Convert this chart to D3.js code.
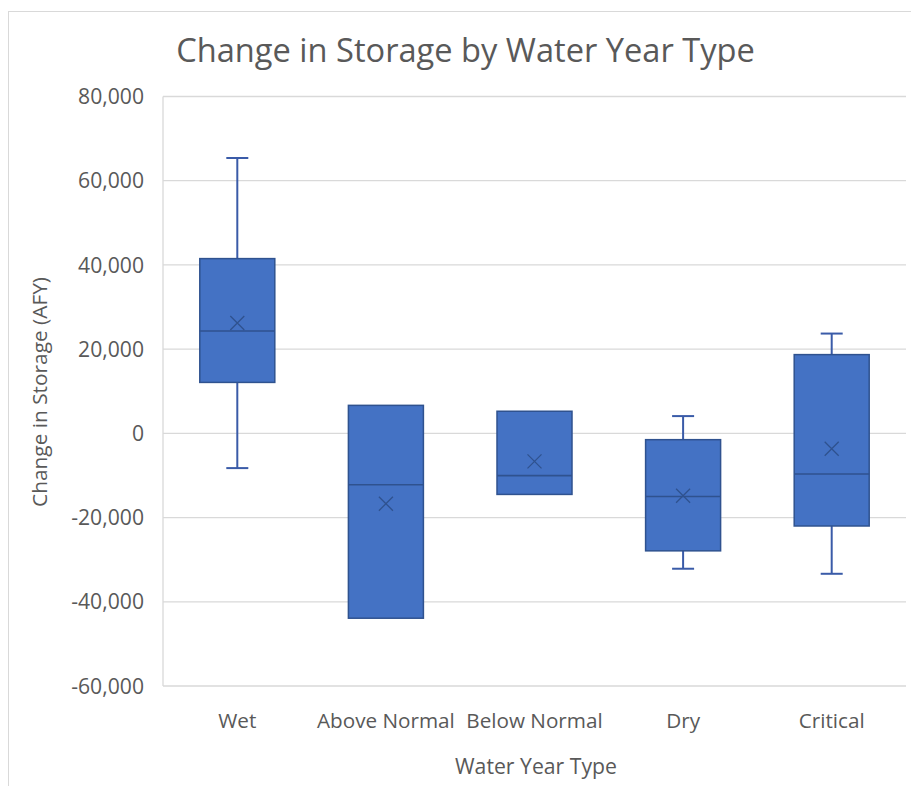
<!DOCTYPE html>
<html>
<head>
<meta charset="utf-8">
<script src="https://cdn.jsdelivr.net/npm/d3@7"></script>
<style>
  html, body { margin: 0; padding: 0; background: #fff; }
  svg { display: block; }
  text { font-family: "Open Sans", sans-serif; fill: #595959; }
</style>
</head>
<body>
<svg id="chart" width="911" height="786"></svg>
<script>
// ---- data ----
const categories = ["Wet", "Above Normal", "Below Normal", "Dry", "Critical"];
const whiskerLow  = [-8250, -43900, -14500, -32150, -33350];
const q1Values    = [12100, -43900, -14500, -27900, -22000];
const medians     = [24300, -12200, -10050, -15000, -9650];
const q3Values    = [41500, 6650, 5250, -1500, 18700];
const whiskerHigh = [65400, 6650, 5250, 4100, 23700];
const means       = [26200, -16700, -6650, -14800, -3650];
const yTicks      = [-60000, -40000, -20000, 0, 20000, 40000, 60000, 80000];
const titleText = "Change in Storage by Water Year Type";
const xTitleText = "Water Year Type";
const yTitleText = "Change in Storage (AFY)";

const svg = d3.select("#chart");
const W = 911, H = 786;
const plot = { left: 163, right: 906, top: 96.5, bottom: 686 };

// chart border
svg.append("rect")
  .attr("x", 8.5).attr("y", 11.5)
  .attr("width", W + 20).attr("height", H + 20)
  .attr("fill", "#fff").attr("stroke", "#d9d9d9").attr("stroke-width", 1);

const y = d3.scaleLinear().domain([-60000, 80000]).range([plot.bottom, plot.top]);
const x = d3.scaleBand().domain(categories).range([plot.left, plot.right]).padding(0);

function fitText(sel, targetWidth, baseSize) {
  sel.attr("font-size", baseSize);
  const w = sel.node().getComputedTextLength();
  const s = baseSize * targetWidth / w;
  sel.attr("font-size", s);
  return s;
}

// gridlines
svg.append("g").selectAll("line").data(yTicks).join("line")
  .attr("x1", plot.left).attr("x2", plot.right)
  .attr("y1", d => y(d)).attr("y2", d => y(d))
  .attr("stroke", "#d9d9d9").attr("stroke-width", 1.3);

// vertical axis line
svg.append("line")
  .attr("x1", plot.left).attr("x2", plot.left)
  .attr("y1", y(80000)).attr("y2", y(-60000))
  .attr("stroke", "#d9d9d9").attr("stroke-width", 1.3);

// y tick labels
const fmt0 = d3.format(",");
const fmt = d => fmt0(d).replace("\u2212", "-");
const probe = svg.append("text").text("80,000");
const tickSize = fitText(probe, 66, 20);
probe.remove();
svg.append("g").selectAll("text").data(yTicks).join("text")
  .attr("x", 144).attr("y", d => y(d))
  .attr("dy", "0.36em")
  .attr("text-anchor", "end")
  .attr("font-size", tickSize)
  .text(d => fmt(d));

// x labels
const probe2 = svg.append("text").text("Above Normal");
const xSize = fitText(probe2, 138, 20);
probe2.remove();
svg.append("g").selectAll("text").data(categories).join("text")
  .attr("x", d => x(d) + x.bandwidth() / 2)
  .attr("y", 727.5)
  .attr("text-anchor", "middle")
  .attr("font-size", xSize)
  .text(d => d);

// title
const t = svg.append("text").text(titleText)
  .attr("x", 465.5).attr("y", 62).attr("text-anchor", "middle");
fitText(t, 579, 32);

// x axis title
const xt = svg.append("text").text(xTitleText)
  .attr("x", 536).attr("y", 774).attr("text-anchor", "middle");
fitText(xt, 162, 20);

// y axis title
const yt = svg.append("text").text(yTitleText)
  .attr("text-anchor", "middle")
  .attr("transform", "translate(47,392) rotate(-90)");
fitText(yt, 230, 19);

// boxes
const boxW = 75;
const capW = 22;
const fill = "#4472C4", stroke = "#2F528F", lineCol = "#3A5BA8";
const data = categories.map((c, i) => ({
  c, lo: whiskerLow[i], q1: q1Values[i], med: medians[i], q3: q3Values[i], hi: whiskerHigh[i], mean: means[i]
}));

const g = svg.append("g").selectAll("g").data(data).join("g")
  .attr("transform", d => `translate(${x(d.c) + x.bandwidth() / 2},0)`);

// whiskers
g.filter(d => d.hi > d.q3).append("line")
  .attr("x1", 0).attr("x2", 0).attr("y1", d => y(d.hi)).attr("y2", d => y(d.q3))
  .attr("stroke", lineCol).attr("stroke-width", 2);
g.filter(d => d.hi > d.q3).append("line")
  .attr("x1", -capW / 2).attr("x2", capW / 2).attr("y1", d => y(d.hi)).attr("y2", d => y(d.hi))
  .attr("stroke", lineCol).attr("stroke-width", 2);
g.filter(d => d.lo < d.q1).append("line")
  .attr("x1", 0).attr("x2", 0).attr("y1", d => y(d.q1)).attr("y2", d => y(d.lo))
  .attr("stroke", lineCol).attr("stroke-width", 2);
g.filter(d => d.lo < d.q1).append("line")
  .attr("x1", -capW / 2).attr("x2", capW / 2).attr("y1", d => y(d.lo)).attr("y2", d => y(d.lo))
  .attr("stroke", lineCol).attr("stroke-width", 2);

// box
g.append("rect")
  .attr("x", -boxW / 2).attr("width", boxW)
  .attr("y", d => y(d.q3)).attr("height", d => y(d.q1) - y(d.q3))
  .attr("fill", fill).attr("stroke", stroke).attr("stroke-width", 1.5);

// median
g.append("line")
  .attr("x1", -boxW / 2).attr("x2", boxW / 2)
  .attr("y1", d => y(d.med)).attr("y2", d => y(d.med))
  .attr("stroke", stroke).attr("stroke-width", 1.6);

// mean marker
const m = 7;
g.append("path")
  .attr("d", d => `M${-m},${y(d.mean) - m}L${m},${y(d.mean) + m}M${-m},${y(d.mean) + m}L${m},${y(d.mean) - m}`)
  .attr("stroke", stroke).attr("stroke-width", 1.3).attr("fill", "none");
</script>
</body>
</html>
